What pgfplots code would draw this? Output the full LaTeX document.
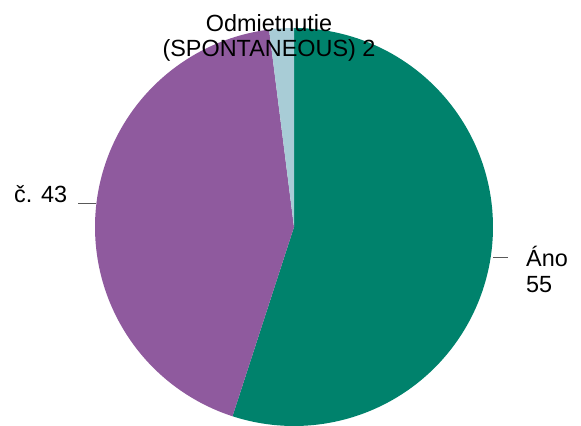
\documentclass[border=0pt]{standalone}
\usepackage{pgfplots}
\usepackage{pgfplotstable}
\pgfplotsset{compat=1.18}
\usepackage{fontspec}
\setmainfont{Liberation Sans}
\definecolor{pieA}{RGB}{0,130,108}
\definecolor{pieB}{RGB}{143,90,158}
\definecolor{pieC}{RGB}{168,204,214}
\definecolor{lead}{RGB}{89,89,89}
\pgfplotstableread{
label value
Ano 55
Cis 43
Odm 2
}\piedata
\pgfplotstablegetelem{0}{value}\of\piedata \edef\vA{\pgfplotsretval}
\pgfplotstablegetelem{1}{value}\of\piedata \edef\vB{\pgfplotsretval}
\pgfplotstablegetelem{2}{value}\of\piedata \edef\vC{\pgfplotsretval}
\pgfmathsetmacro{\sAB}{\vA+\vB}
\pgfmathsetmacro{\sAll}{\vA+\vB+\vC}
\begin{document}
\begin{tikzpicture}
\begin{axis}[
  scale only axis, width=581bp, height=426bp,
  xmin=0, xmax=581, ymin=0, ymax=426,
  hide axis, clip=false,
]
\path (rel axis cs:0,0) rectangle (rel axis cs:1,1);
\addplot[fill=pieA, draw=none, domain=0:\vA, samples=150, variable=\t]
  ({294+199*cos(90-360*t/\sAll)}, {199+199*sin(90-360*t/\sAll)}) -- (axis cs:294,199) -- cycle;
\addplot[fill=pieB, draw=none, domain=\vA:\sAB, samples=150, variable=\t]
  ({294+199*cos(90-360*t/\sAll)}, {199+199*sin(90-360*t/\sAll)}) -- (axis cs:294,199) -- cycle;
\addplot[fill=pieC, draw=none, domain=\sAB:\sAll, samples=20, variable=\t]
  ({294+199*cos(90-360*t/\sAll)}, {199+199*sin(90-360*t/\sAll)}) -- (axis cs:294,199) -- cycle;
\addplot[lead, line width=1pt, no markers] coordinates {(78,222) (96,222)};
\addplot[lead, line width=1pt, no markers] coordinates {(493,168) (508,168)};
\begin{scope}[every node/.style={inner sep=0pt, font=\fontsize{23.5}{25}\selectfont, text=black}]
\node[anchor=base] at (axis cs:269,394) {Odmietnutie};
\node[anchor=base] at (axis cs:269,369) {(SPONTANEOUS) \vC};
\node[anchor=base west] at (axis cs:14,223) {č. \vB};
\node[anchor=base west] at (axis cs:526,159) {Áno};
\node[anchor=base west] at (axis cs:526,133) {\vA};
\end{scope}
\end{axis}
\end{tikzpicture}
\end{document}
